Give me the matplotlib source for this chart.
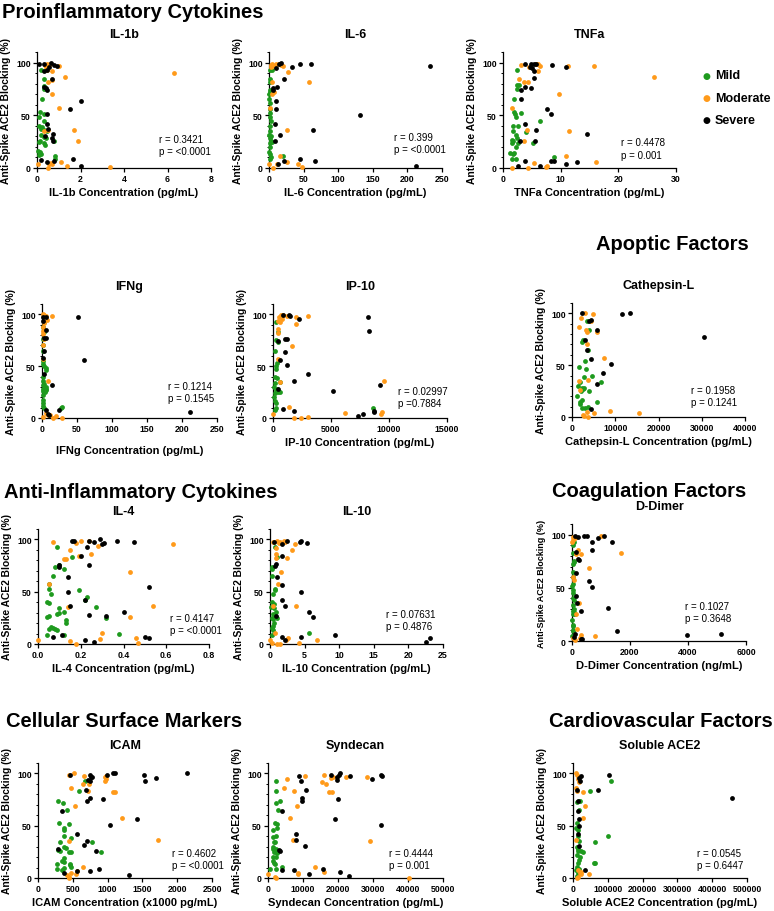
import matplotlib
matplotlib.use("Agg")
from matplotlib import pyplot as plt
from matplotlib.ticker import MultipleLocator

plt.rcParams['font.family'] = ['Liberation Sans', 'DejaVu Sans']

GREEN = '#1e9a1e'
ORANGE = '#ff9a1a'
BLACK = '#000000'

# ---- data: (concentration, blocking %) per severity group ----
IL1B_MILD = [(0.2, 93), (0.3, 84), (0.3, 78), (0.3, 75), (0.25, 65), (0.15, 53), (0.3, 51), (0.1, 48), (0.3, 45),
             (0.1, 40), (0.2, 37), (0.3, 36), (0.2, 31), (0.3, 29), (0.15, 26), (0.4, 28), (0.3, 24), (0.05, 16),
             (0.15, 15), (0.2, 13), (0.1, 12), (0.85, 11), (0.85, 9), (0.45, 35), (0.8, 26), (0.35, 22), (0.1, 25), (0.25, 39)]
IL1B_MOD = [(0.35, 98), (0.45, 99), (0.5, 97), (0.4, 96), (0.6, 99), (1.0, 97), (1.3, 86), (0.7, 92), (0.5, 82), (0.7, 83),
            (0.7, 70), (1.0, 57), (1.7, 36), (1.9, 26), (0.5, 36), (0.3, 35), (0.55, 4), (0.7, 4), (0.5, 0), (1.1, 6),
            (1.4, 2), (3.35, 0.5), (0.05, 4), (0.65, 5), (6.3, 90), (0.35, 98), (0.45, 93)]
IL1B_SEV = [(0.1, 99), (0.3, 99), (0.55, 96), (0.65, 100), (0.8, 98), (0.9, 97), (0.45, 93), (0.3, 92), (0.7, 84), (0.3, 77),
            (0.4, 76), (0.45, 74), (2.0, 64), (1.5, 56), (0.45, 51), (0.45, 42), (0.5, 37), (0.75, 32), (0.7, 28),
            (0.75, 26), (1.65, 9), (0.8, 7), (0.45, 6), (2.0, 2), (0.2, 8), (0.35, 30)]

IL6_MILD = [(2, 93), (4, 93), (1, 84), (1, 74), (2, 72), (0.5, 65), (1, 56), (2, 52), (1, 48), (3, 45), (1, 40), (2, 35),
            (0.5, 31), (2, 28), (3, 26), (4, 25), (1, 24), (1, 20), (0.5, 15), (2, 13), (1, 9), (3, 10), (20, 11), (3, 30),
            (2, 62), (1, 82), (0.5, 70)]
IL6_MOD = [(3, 98), (5, 99), (8, 97), (14, 99), (20, 97), (3, 96), (28, 91), (58, 82), (5, 82), (7, 72), (5, 70), (1, 57),
           (26, 36), (16, 11), (26, 6), (42, 4), (47, 1), (6, 0), (12, 4), (0, 4), (4, 97), (10, 99), (18, 98)]
IL6_SEV = [(15, 99), (18, 100), (45, 99), (60, 99), (33, 96), (233, 97), (21, 84), (12, 77), (6, 76), (6, 74), (10, 64),
           (10, 56), (132, 50), (8, 42), (63, 36), (16, 31), (9, 26), (13, 4), (22, 7), (45, 9), (66, 7), (212, 2), (10, 95)]

TNFA_MILD = [(2.4, 93), (2.5, 79), (2.4, 75), (1.9, 65), (1.9, 53), (2.0, 51), (2.2, 48), (3.1, 52), (1.8, 40), (2.6, 40),
             (1.7, 35), (6.5, 45), (1.7, 26), (2.4, 28), (2.2, 31), (4.0, 34), (1.5, 24), (2.6, 24), (5.2, 24), (2.3, 20),
             (1.3, 14), (1.9, 14), (1.7, 13), (2.2, 9), (1.5, 9), (8.8, 10), (2.7, 79), (1.6, 27)]
TNFA_MOD = [(3.2, 98), (5.8, 99), (6.5, 97), (11.3, 97), (15.7, 97), (4.5, 96), (6.1, 92), (2.8, 84), (3.7, 82), (4.3, 82),
            (26.2, 86), (9.7, 70), (1.6, 57), (4.1, 36), (11.4, 35), (3.7, 26), (11.0, 11), (16.2, 6), (5.3, 5), (7.6, 2),
            (4.3, 0), (1.5, 0), (7.4, 1), (6.0, 99)]
TNFA_SEV = [(3.8, 99), (4.8, 99), (5.3, 99), (5.8, 99), (8.5, 98), (10.9, 96), (5.1, 95), (4.6, 96), (5.4, 92), (5.4, 85),
            (3.8, 77), (4.8, 76), (3.2, 74), (3.2, 65), (7.7, 56), (8.4, 51), (3.8, 42), (5.7, 36), (14.5, 32), (2.9, 26),
            (5.6, 26), (3.8, 7), (8.4, 7), (8.8, 7), (12.9, 6), (11.0, 4), (6.5, 2), (2.6, 2)]

IFNG_MILD = [(3, 93), (1, 88), (3, 83), (2, 76), (1, 70), (2, 65), (1, 55), (2, 52), (3, 50), (5, 48), (6, 46), (1, 40),
             (1, 36), (3, 33), (5, 30), (5, 28), (1, 28), (2, 26), (4, 25), (1, 22), (1, 17), (2, 14), (1, 12), (3, 10),
             (27, 10), (28, 11), (2, 32), (5, 27)]
IFNG_MOD = [(1, 100), (3, 99), (5, 98), (14, 98), (7, 95), (3, 92), (1, 88), (2, 84), (1, 81), (3, 76), (2, 70), (1, 57),
            (9, 36), (5, 5), (7, 4), (9, 3), (12, 3), (20, 2), (15, 0), (28, 0), (1, 1)]
IFNG_SEV = [(5, 97), (52, 97), (2, 94), (5, 85), (3, 77), (5, 77), (3, 65), (2, 58), (60, 56), (3, 42), (14, 32), (6, 8),
            (8, 4), (10, 3), (24, 8), (212, 6), (2, 97)]

IP10_MILD = [(300, 93), (450, 83), (300, 75), (400, 73), (200, 65), (350, 53), (300, 50), (300, 47), (200, 40), (350, 39),
             (200, 34), (100, 30), (350, 28), (300, 27), (400, 25), (200, 24), (100, 20), (200, 16), (300, 14), (300, 10),
             (200, 8), (600, 35), (8600, 10), (600, 25)]
IP10_MOD = [(500, 97), (700, 99), (900, 99), (1200, 98), (2000, 97), (3000, 98), (2000, 91), (600, 93), (400, 86), (400, 82),
            (1600, 69), (400, 57), (600, 35), (9600, 36), (1400, 11), (9400, 6), (9300, 4), (6200, 5), (3000, 1), (2400, 0),
            (1800, 0), (0, 4), (800, 96), (400, 94)]
IP10_SEV = [(900, 99), (1400, 99), (1500, 98), (2200, 96), (8200, 97), (8300, 84), (1000, 76), (1200, 76), (400, 74),
            (1000, 64), (600, 56), (1200, 51), (3000, 42), (1800, 36), (9200, 32), (5200, 26), (400, 28), (900, 9),
            (1800, 7), (7300, 2), (7800, 4), (8700, 7), (8700, 6)]

CATL_MILD = [(3500, 93), (3900, 84), (2600, 74), (2300, 72), (3800, 65), (3000, 54), (1700, 48), (3300, 46), (4700, 40),
             (2700, 39), (6800, 34), (1900, 34), (1400, 30), (2200, 28), (2600, 27), (2800, 28), (2000, 25), (3900, 25),
             (1200, 20), (2200, 16), (1800, 13), (5700, 14), (3600, 10), (2300, 9), (3100, 9), (1900, 14)]
CATL_MOD = [(3000, 100), (4800, 99), (2100, 96), (4400, 93), (1700, 87), (3200, 84), (3500, 82), (5800, 82), (3500, 70),
            (7500, 57), (3700, 36), (1600, 35), (1800, 26), (3500, 5), (8900, 6), (15400, 4), (5200, 4), (2700, 1),
            (3700, 0), (2500, 2)]
CATL_SEV = [(2300, 100), (11500, 99), (13500, 100), (4300, 94), (5700, 84), (3000, 74), (3400, 65), (4400, 56), (9000, 51),
            (7200, 42), (5700, 32), (4400, 8), (30500, 77), (4000, 93)]

IL4_MILD = [(0.09, 93), (0.16, 83), (0.08, 74), (0.12, 72), (0.10, 76), (0.07, 65), (0.05, 57), (0.05, 53), (0.06, 48),
            (0.19, 52), (0.04, 40), (0.05, 39), (0.23, 45), (0.22, 42), (0.27, 35), (0.10, 34), (0.12, 31), (0.10, 30),
            (0.09, 29), (0.32, 25), (0.05, 27), (0.04, 26), (0.13, 23), (0.13, 20), (0.06, 16), (0.08, 14), (0.09, 13),
            (0.05, 14), (0.12, 9), (0.04, 9), (0.38, 10), (0.07, 15)]
IL4_MOD = [(0.07, 98), (0.18, 97), (0.20, 99), (0.24, 99), (0.28, 94), (0.25, 86), (0.15, 90), (0.12, 81), (0.13, 81),
           (0.19, 84), (0.43, 69), (0.05, 57), (0.63, 96), (0.54, 36), (0.43, 26), (0.14, 35), (0.30, 11), (0.46, 6),
           (0.29, 5), (0.15, 3), (0.18, 0), (0.47, 1), (0.0, 4)]
IL4_SEV = [(0.16, 99), (0.17, 99), (0.24, 99), (0.26, 98), (0.29, 100), (0.30, 96), (0.31, 97), (0.37, 99), (0.45, 98),
           (0.20, 84), (0.23, 93), (0.10, 76), (0.10, 74), (0.24, 76), (0.14, 64), (0.14, 50), (0.52, 55), (0.22, 42),
           (0.15, 36), (0.24, 28), (0.32, 27), (0.40, 31), (0.50, 7), (0.52, 6), (0.11, 9), (0.07, 7), (0.22, 4), (0.26, 2)]

IL10_MILD = [(0.7, 93), (1.0, 83), (0.3, 74), (0.3, 72), (0.3, 65), (0.7, 53), (0.7, 52), (0.4, 48), (0.3, 40), (0.6, 38),
             (0.6, 34), (0.8, 31), (0.4, 29), (0.7, 27), (0.3, 25), (0.4, 24), (1.0, 25), (0.6, 20), (0.3, 15), (0.4, 13),
             (0.3, 9), (5.7, 11), (0.5, 17), (0.2, 35)]
IL10_MOD = [(0.5, 98), (1.0, 99), (1.5, 98), (2.0, 99), (2.2, 98), (1.3, 97), (3.6, 96), (3.2, 90), (0.8, 92), (0.8, 86),
            (0.8, 82), (2.4, 82), (1.6, 69), (1.2, 57), (0.5, 36), (3.8, 36), (0.7, 11), (2.6, 6), (2.3, 4), (1.0, 0),
            (1.4, 0), (4.2, 1), (6.8, 4), (0.0, 4), (0.3, 1)]
IL10_SEV = [(0.6, 98), (1.8, 96), (2.4, 99), (4.4, 98), (4.5, 99), (5.4, 97), (1.8, 84), (0.8, 77), (0.7, 75), (1.0, 64),
            (1.8, 56), (4.5, 50), (1.8, 42), (2.1, 36), (5.6, 31), (6.2, 26), (0.9, 27), (1.7, 7), (2.2, 4), (4.5, 7),
            (9.4, 9), (22.5, 2), (23.1, 6)]

DDIM_MILD = [(80, 93), (50, 90), (20, 83), (60, 74), (30, 72), (40, 65), (20, 54), (10, 52), (30, 48), (20, 40), (60, 39),
             (30, 34), (80, 30), (20, 28), (60, 27), (40, 25), (100, 25), (10, 20), (30, 15), (50, 14), (30, 10), (20, 9),
             (10, 5), (60, 75), (40, 60), (20, 45)]
DDIM_MOD = [(30, 98), (100, 97), (50, 95), (10, 93), (1000, 99), (1700, 83), (200, 86), (150, 82), (320, 82), (580, 69),
            (250, 36), (150, 25), (60, 57), (300, 6), (800, 5), (260, 3), (100, 1), (30, 3), (180, 11), (30, 60)]
DDIM_SEV = [(100, 99), (210, 98), (400, 99), (500, 99), (900, 97), (1100, 99), (1380, 93), (700, 93), (700, 86), (150, 84),
            (250, 76), (200, 77), (150, 64), (600, 56), (700, 51), (150, 42), (180, 36), (300, 28), (1250, 31), (1550, 9),
            (3950, 6), (5150, 7), (300, 2), (60, 4), (100, 7), (350, 2)]

ICAM_MILD = [(680, 93), (590, 83), (290, 74), (360, 72), (420, 65), (300, 53), (440, 52), (380, 48), (380, 46), (380, 40),
             (480, 38), (770, 34), (320, 34), (380, 30), (400, 29), (290, 27), (320, 26), (440, 25), (480, 25), (910, 25),
             (370, 19), (340, 16), (370, 15), (270, 13), (460, 13), (460, 12), (280, 9), (340, 8), (480, 11), (380, 10)]
ICAM_MOD = [(440, 99), (520, 100), (660, 98), (960, 97), (980, 98), (970, 95), (960, 93), (650, 90), (730, 90), (720, 83),
            (480, 86), (1080, 82), (1110, 82), (530, 69), (1210, 57), (1720, 36), (450, 35), (650, 11), (560, 7),
            (540, 4), (420, 3), (450, 1), (440, 0), (480, 5)]
ICAM_SEV = [(460, 99), (750, 99), (760, 97), (780, 97), (990, 99), (1080, 100), (1100, 100), (1520, 99), (1540, 93),
            (1690, 96), (2140, 100), (720, 94), (740, 93), (690, 84), (940, 76), (750, 77), (700, 74), (350, 64),
            (1420, 56), (1030, 51), (560, 42), (700, 35), (660, 32), (840, 26), (290, 28), (870, 9), (740, 7), (560, 7),
            (1310, 3), (380, 5)]

SYND_MILD = [(2200, 93), (2300, 83), (2200, 72), (3500, 74), (2800, 65), (1900, 53), (2700, 52), (2500, 48), (1500, 46),
             (2200, 40), (1300, 39), (1600, 34), (2100, 34), (1400, 30), (2400, 28), (2000, 27), (1700, 25), (2300, 25),
             (2500, 24), (1400, 20), (1500, 16), (1800, 14), (2100, 13), (2300, 9), (700, 9), (3900, 11), (2400, 20),
             (1300, 28)]
SYND_MOD = [(5500, 95), (10500, 98), (16000, 99), (18000, 96), (18500, 97), (22400, 97), (28200, 97), (15500, 92),
            (16700, 90), (4600, 86), (7300, 83), (17300, 82), (18200, 82), (8400, 69), (6200, 57), (7200, 36), (29000, 35),
            (13300, 11), (15900, 6), (8700, 4), (8700, 5), (2000, 1), (2400, 0), (40200, 0), (0, 4)]
SYND_SEV = [(8800, 98), (18000, 99), (19800, 97), (20300, 99), (20500, 100), (23300, 98), (32200, 99), (32500, 98),
            (29800, 95), (9300, 93), (19800, 94), (10900, 84), (9800, 77), (9800, 74), (19900, 76), (4000, 64), (19200, 56),
            (32400, 51), (8000, 42), (8000, 36), (10500, 31), (3500, 26), (3200, 27), (4000, 8), (7500, 8), (11600, 4),
            (15700, 9), (20500, 6), (23000, 2)]

SACE2_MILD = [(110000, 93), (50000, 83), (18000, 74), (12000, 73), (16000, 65), (12000, 53), (10000, 48), (14000, 46),
              (13000, 40), (100000, 40), (62000, 34), (16000, 35), (12000, 30), (14000, 26), (22000, 26), (30000, 25),
              (12000, 22), (20000, 20), (60000, 14), (62000, 14), (15000, 14), (12000, 11), (18000, 9), (10000, 8),
              (14000, 5), (12000, 2), (16000, 17), (13000, 28), (20000, 74)]
SACE2_MOD = [(10000, 100), (12000, 99), (14000, 95), (16000, 92), (10000, 86), (12000, 83), (28000, 82), (35000, 69),
             (28000, 57), (10000, 36), (14000, 8), (24000, 6), (22000, 4), (46000, 4), (15000, 1), (12000, 0), (20000, 5)]
SACE2_SEV = [(22000, 98), (103000, 99), (18000, 96), (20000, 93), (72000, 84), (14000, 74), (16000, 56), (18000, 50),
             (14000, 42), (16000, 31), (34000, 8), (458000, 77), (12000, 84), (14000, 64)]

NAMES = ['IL-1b', 'IL-6', 'TNFa', 'IFNg', 'IP-10', 'Cathepsin-L',
         'IL-4', 'IL-10', 'D-Dimer', 'ICAM', 'Syndecan', 'Soluble ACE2']
XLABELS = ['IL-1b Concentration (pg/mL)', 'IL-6 Concentration (pg/mL)', 'TNFa Concentration (pg/mL)',
           'IFNg Concentration (pg/mL)', 'IP-10 Concentration (pg/mL)', 'Cathepsin-L Concentration (pg/mL)',
           'IL-4 Concentration (pg/mL)', 'IL-10 Concentration (pg/mL)', 'D-Dimer Concentration (ng/mL)',
           'ICAM Concentration (x1000 pg/mL)', 'Syndecan Concentration (pg/mL)', 'Soluble ACE2 Concentration (pg/mL)']
XMAX = [8, 250, 30, 250, 15000, 40000, 0.8, 25, 6000, 2500, 50000, 500000]
XSTEP = [2, 50, 10, 50, 5000, 10000, 0.2, 5, 2000, 500, 10000, 100000]
R_VALS = ['r = 0.3421', 'r = 0.399', 'r = 0.4478', 'r = 0.1214', 'r = 0.02997', 'r = 0.1958',
          'r = 0.4147', 'r = 0.07631', 'r = 0.1027', 'r = 0.4602', 'r = 0.4444', 'r = 0.0545']
P_VALS = ['p = <0.0001', 'p = <0.0001', 'p = 0.001', 'p = 0.1545', 'p =0.7884', 'p = 0.1241',
          'p = <0.0001', 'p = 0.4876', 'p = 0.3648', 'p = <0.0001', 'p = 0.001', 'p = 0.6447']
GROUPS = ['Mild', 'Moderate', 'Severe']
HEADERS = ['Proinflammatory Cytokines', 'Apoptic Factors', 'Anti-Inflammatory Cytokines',
           'Coagulation Factors', 'Cellular Surface Markers', 'Cardiovascular Factors']

data = [(IL1B_MILD, IL1B_MOD, IL1B_SEV), (IL6_MILD, IL6_MOD, IL6_SEV), (TNFA_MILD, TNFA_MOD, TNFA_SEV),
        (IFNG_MILD, IFNG_MOD, IFNG_SEV), (IP10_MILD, IP10_MOD, IP10_SEV), (CATL_MILD, CATL_MOD, CATL_SEV),
        (IL4_MILD, IL4_MOD, IL4_SEV), (IL10_MILD, IL10_MOD, IL10_SEV), (DDIM_MILD, DDIM_MOD, DDIM_SEV),
        (ICAM_MILD, ICAM_MOD, ICAM_SEV), (SYND_MILD, SYND_MOD, SYND_SEV), (SACE2_MILD, SACE2_MOD, SACE2_SEV)]

W, H = 774, 912
fig = plt.figure(figsize=(W / 100, H / 100), dpi=100)

# axes boxes in pixels: left, right, y of zero line, top of axis
boxes = [(37, 211, 169, 53), (269, 442, 169, 53), (503, 676, 169, 53),
         (42, 217, 419, 305), (273, 447, 419, 305), (572, 745, 418, 304),
         (38, 209, 645, 530), (270, 443, 645, 530), (572, 746, 642, 525),
         (38, 212, 879, 764), (268, 443, 879, 764), (573, 747, 879, 764)]
r_pos = [(0.70, 0.25), (0.72, 0.27), (0.68, 0.22), (0.72, 0.28), (0.72, 0.24), (0.69, 0.24),
         (0.77, 0.23), (0.67, 0.26), (0.65, 0.30), (0.77, 0.22), (0.69, 0.22), (0.71, 0.22)]
colors = [GREEN, ORANGE, BLACK]

for i, (l, r, y0, yt) in enumerate(boxes):
    ax = fig.add_axes([l / W, 1 - y0 / H, (r - l) / W, (y0 - yt) / H])
    for pts, c in zip(data[i], colors):
        xs = [p[0] for p in pts]
        ys = [p[1] for p in pts]
        ax.scatter(xs, ys, s=12, color=c, linewidths=0, clip_on=False, zorder=3)
    ax.set_xlim(0, XMAX[i])
    ax.set_ylim(0, 110)
    ax.spines['top'].set_visible(False)
    ax.spines['right'].set_visible(False)
    for sp in ('left', 'bottom'):
        ax.spines[sp].set_linewidth(0.9)
    ax.set_yticks([0, 50, 100])
    ax.yaxis.set_minor_locator(MultipleLocator(10))
    xt = [k * XSTEP[i] for k in range(int(round(XMAX[i] / XSTEP[i])) + 1)]
    ax.set_xticks(xt)
    if i == 6:
        ax.set_xticklabels([f'{t:.1f}' for t in xt])
    else:
        ax.set_xticklabels([f'{t:g}' for t in xt])
    ax.tick_params(axis='both', which='major', length=3, width=0.9, labelsize=6.3, pad=1.5)
    ax.tick_params(axis='y', which='minor', length=1.8, width=0.7)
    for lab in ax.get_xticklabels() + ax.get_yticklabels():
        lab.set_fontweight('bold')
    ax.set_xlabel(XLABELS[i], fontsize=8, fontweight='bold')
    xl_off = 33 if i == 3 else 25
    ax.xaxis.set_label_coords(0.5, -(xl_off - 6) / (y0 - yt))
    ax.set_ylabel('Anti-Spike ACE2 Blocking (%)', fontsize=6.5 if i == 8 else 7.4, fontweight='bold')
    ax.yaxis.set_label_coords(-0.15, 0.5)
    ax.text(0.5, 1 + 18 / (y0 - yt), NAMES[i], transform=ax.transAxes, ha='center', va='center',
            fontsize=9, fontweight='bold')
    rx, ry = r_pos[i]
    ax.text(rx, ry, R_VALS[i], transform=ax.transAxes, ha='left', va='center', fontsize=7)
    ax.text(rx, ry - 0.105, P_VALS[i], transform=ax.transAxes, ha='left', va='center', fontsize=7)

# section headers
hdr = [(2, 12, 'left'), (672, 245, 'center'), (4, 493, 'left'),
       (649, 492, 'center'), (6, 722, 'left'), (661, 722, 'center')]
for (x, y, ha), t in zip(hdr, HEADERS):
    fig.text(x / W, 1 - y / H, t, ha=ha, va='center', fontsize=14.5, fontweight='bold')

# legend
for k, (g, c) in enumerate(zip(GROUPS, colors)):
    yy = 1 - (76 + 22.5 * k) / H
    fig.text(706 / W, yy, '\u25cf', color=c, ha='center', va='center', fontsize=6.5, family='DejaVu Sans')
    fig.text(715 / W, yy, g, ha='left', va='center', fontsize=9, fontweight='bold')

fig.savefig('out.png', dpi=100)
